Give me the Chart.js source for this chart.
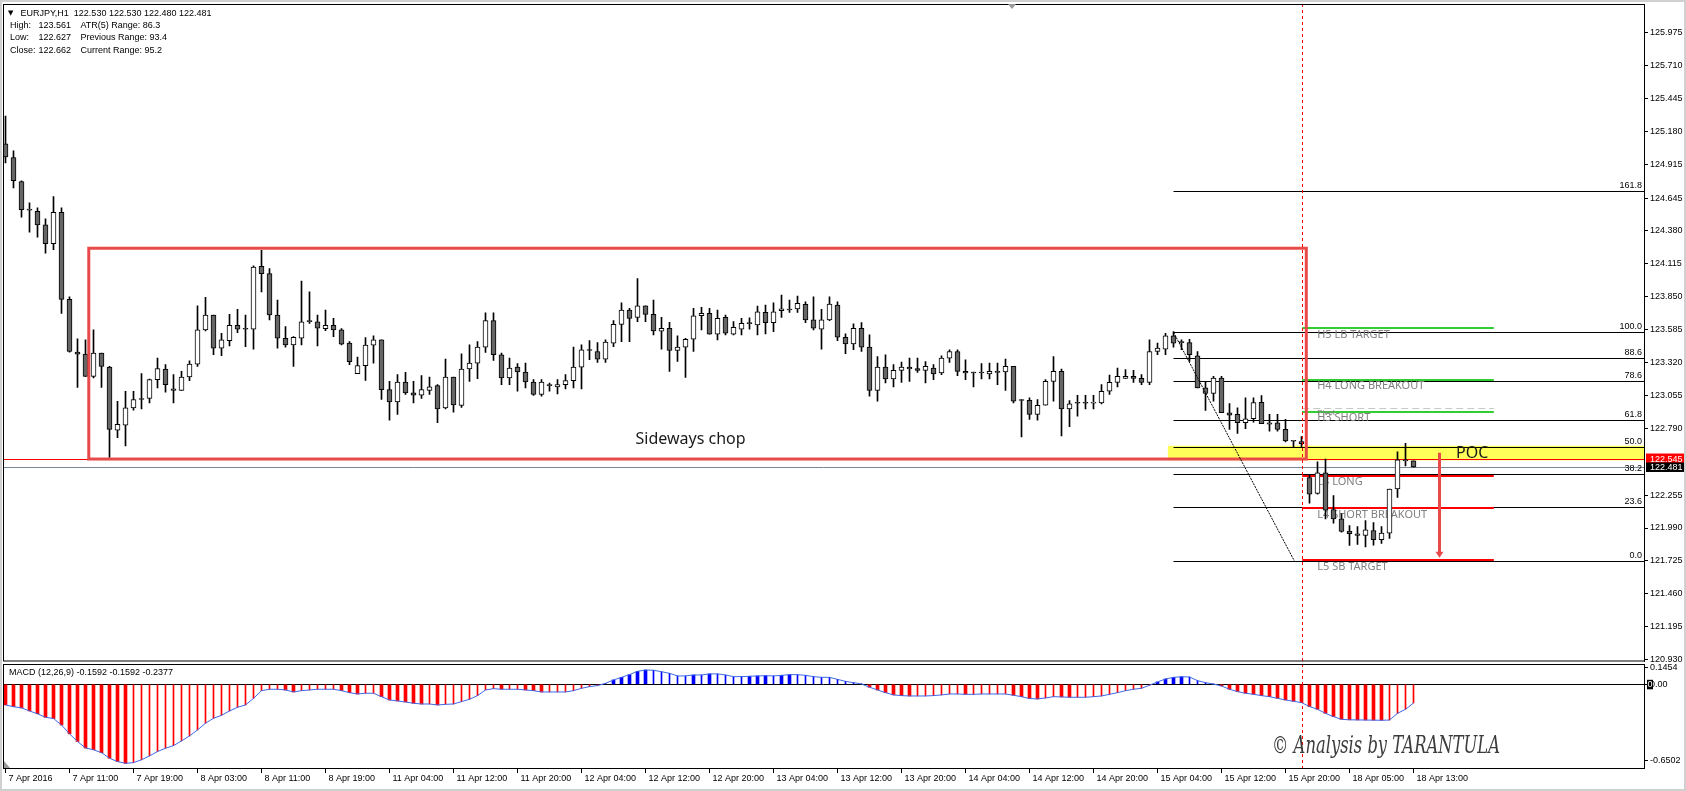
<!DOCTYPE html>
<html>
<head>
<meta charset="utf-8">
<script src="https://cdn.jsdelivr.net/npm/chart.js@4.4.1/dist/chart.umd.min.js"></script>
<style>
  html, body { margin: 0; padding: 0; background: #fff; }
  #wrap { position: relative; width: 1686px; height: 791px; overflow: hidden; }
  canvas { position: absolute; left: 0; top: 0; }
</style>
</head>
<body>
<div id="wrap">
  <canvas id="main" width="1686" height="791"></canvas>
  <canvas id="macd" width="1686" height="791"></canvas>
</div>
<script>
// EURJPY H1 candles (bar 0 = first visible bar)
const opens = [125.080,124.970,124.778,124.552,124.538,124.429,124.277,124.530,123.829,123.405,
  123.389,123.210,123.397,123.285,122.778,122.818,122.957,123.032,123.032,123.184,
  123.269,123.109,123.098,123.205,123.309,123.584,123.704,123.437,123.498,123.621,
  123.589,123.589,124.096,124.037,123.704,123.517,123.464,123.517,123.650,123.648,
  123.594,123.621,123.584,123.477,123.232,123.296,123.461,123.504,123.104,123.005,
  123.165,123.077,123.058,123.098,123.136,122.957,123.205,122.976,123.269,123.317,
  123.445,123.658,123.384,123.197,123.285,123.245,123.165,123.064,123.136,123.125,
  123.144,123.176,123.285,123.424,123.410,123.349,123.477,123.629,123.744,123.685,
  123.778,123.709,123.573,123.597,123.418,123.445,123.509,123.698,123.717,123.549,
  123.685,123.549,123.589,123.634,123.624,123.725,123.642,123.738,123.744,123.752,
  123.789,123.664,123.589,123.664,123.784,123.525,123.472,123.597,123.445,123.098,
  123.285,123.189,123.258,123.285,123.272,123.258,123.277,123.237,123.357,123.410,
  123.250,123.245,123.237,123.229,123.250,123.245,123.290,123.016,123.018,122.904,
  122.978,123.170,123.250,122.949,122.994,122.994,122.994,122.997,123.090,123.162,
  123.194,123.210,123.194,123.162,123.410,123.429,123.536,123.482,123.482,123.376,
  123.117,123.072,123.197,122.917,122.904,122.837,122.869,123.002,122.837,122.837,
  122.784,122.690,122.685,122.396,122.269,122.434,122.138,122.064,121.965,121.944,
  121.930,121.970,121.896,121.949,122.304,122.538,122.530];
const highs = [125.304,125.024,124.784,124.606,124.566,124.477,124.656,124.566,123.850,123.512,
  123.504,123.584,123.397,123.290,123.010,123.090,123.090,123.232,123.189,123.357,
  123.304,123.224,123.250,123.336,123.778,123.845,123.704,123.557,123.709,123.749,
  123.704,124.100,124.224,124.077,123.824,123.610,123.530,123.976,123.890,123.704,
  123.744,123.677,123.594,123.490,123.365,123.522,123.536,123.504,123.170,123.224,
  123.242,123.170,123.216,123.205,123.144,123.349,123.205,123.392,123.464,123.490,
  123.722,123.722,123.397,123.357,123.312,123.317,123.184,123.184,123.157,123.184,
  123.224,123.445,123.464,123.498,123.482,123.504,123.658,123.802,123.757,123.997,
  123.778,123.824,123.685,123.645,123.536,123.517,123.757,123.765,123.757,123.744,
  123.704,123.650,123.677,123.682,123.776,123.784,123.802,123.864,123.824,123.856,
  123.810,123.850,123.749,123.850,123.810,123.552,123.632,123.642,123.544,123.370,
  123.384,123.304,123.325,123.357,123.357,123.330,123.304,123.376,123.424,123.424,
  123.344,123.245,123.312,123.317,123.317,123.349,123.290,123.024,123.037,123.024,
  123.184,123.370,123.269,123.016,123.058,123.058,123.058,123.144,123.221,123.277,
  123.264,123.258,123.224,123.504,123.477,123.557,123.570,123.504,123.509,123.410,
  123.162,123.210,123.210,122.992,122.957,123.037,123.037,123.056,122.904,122.904,
  122.864,122.690,122.725,122.414,122.522,122.544,122.250,122.104,122.010,122.002,
  122.050,122.034,122.002,122.304,122.602,122.672,122.530];
const lows = [124.928,124.726,124.490,124.370,124.330,124.202,124.229,123.717,123.405,123.122,
  123.210,123.197,123.122,122.557,122.717,122.650,122.938,122.949,122.997,123.117,
  123.082,122.997,123.098,123.176,123.290,123.576,123.384,123.376,123.456,123.562,
  123.450,123.429,123.890,123.664,123.437,123.445,123.290,123.464,123.637,123.456,
  123.578,123.530,123.464,123.304,123.232,123.178,123.317,123.024,122.858,122.904,
  123.064,122.997,123.032,123.064,122.837,122.949,122.922,122.960,123.170,123.192,
  123.402,123.338,123.144,123.144,123.090,123.117,123.056,123.050,123.090,123.069,
  123.109,123.117,123.109,123.344,123.322,123.322,123.450,123.490,123.490,123.650,
  123.650,123.544,123.429,123.250,123.330,123.202,123.410,123.584,123.549,123.504,
  123.544,123.544,123.544,123.589,123.544,123.552,123.570,123.685,123.725,123.725,
  123.642,123.584,123.429,123.658,123.498,123.392,123.424,123.410,123.050,123.010,
  123.157,123.125,123.162,123.170,123.242,123.157,123.184,123.224,123.322,123.216,
  123.184,123.125,123.189,123.189,123.144,123.098,122.997,122.722,122.864,122.858,
  122.978,123.010,122.730,122.805,122.890,122.949,122.949,122.989,123.064,123.125,
  123.194,123.162,123.144,123.144,123.384,123.384,123.445,123.424,123.330,123.117,
  122.936,123.010,122.917,122.784,122.752,122.789,122.842,122.829,122.770,122.770,
  122.682,122.645,122.640,122.189,122.262,122.064,122.029,121.957,121.850,121.858,
  121.838,121.852,121.866,121.906,122.237,122.490,122.480];
const closes = [124.976,124.784,124.552,124.548,124.429,124.277,124.530,123.829,123.410,123.389,
  123.210,123.397,123.290,122.784,122.824,122.957,123.024,123.024,123.184,123.272,
  123.144,123.098,123.205,123.309,123.584,123.704,123.437,123.504,123.621,123.589,
  123.589,124.090,124.037,123.704,123.517,123.464,123.525,123.648,123.650,123.597,
  123.621,123.584,123.469,123.328,123.296,123.461,123.504,123.104,123.005,123.165,
  123.077,123.058,123.104,123.125,122.949,123.205,122.981,123.269,123.317,123.445,
  123.658,123.384,123.197,123.277,123.245,123.165,123.064,123.165,123.136,123.144,
  123.176,123.285,123.424,123.418,123.349,123.485,123.629,123.744,123.677,123.778,
  123.709,123.576,123.597,123.418,123.445,123.509,123.698,123.717,123.549,123.677,
  123.557,123.605,123.637,123.634,123.730,123.642,123.730,123.754,123.744,123.797,
  123.664,123.597,123.664,123.792,123.525,123.472,123.597,123.445,123.098,123.285,
  123.189,123.258,123.285,123.269,123.258,123.290,123.229,123.357,123.410,123.250,
  123.237,123.237,123.237,123.250,123.242,123.290,123.010,123.016,122.904,122.978,
  123.170,123.250,122.949,122.989,122.994,122.994,122.997,123.090,123.162,123.210,
  123.210,123.194,123.162,123.410,123.437,123.536,123.477,123.482,123.384,123.117,
  123.072,123.197,122.917,122.898,122.837,122.869,123.000,122.829,122.826,122.784,
  122.690,122.688,122.669,122.262,122.434,122.133,122.064,121.962,121.944,121.930,
  121.976,121.896,121.949,122.304,122.538,122.530,122.481];

// MACD histogram (12,26,9), one value per bar
const macdValues = [-0.175,-0.190,-0.200,-0.226,-0.250,-0.280,-0.290,-0.345,-0.420,-0.485,
  -0.540,-0.555,-0.580,-0.627,-0.655,-0.670,-0.664,-0.640,-0.607,-0.570,
  -0.542,-0.520,-0.480,-0.438,-0.387,-0.330,-0.288,-0.263,-0.226,-0.195,
  -0.175,-0.119,-0.054,-0.042,-0.042,-0.048,-0.065,-0.054,-0.048,-0.042,
  -0.042,-0.042,-0.054,-0.071,-0.082,-0.076,-0.076,-0.105,-0.133,-0.141,
  -0.150,-0.161,-0.167,-0.167,-0.175,-0.170,-0.167,-0.147,-0.127,-0.096,
  -0.048,-0.037,-0.042,-0.042,-0.042,-0.048,-0.054,-0.065,-0.065,-0.065,
  -0.065,-0.054,-0.034,-0.020,-0.011,0.008,0.037,0.059,0.082,0.110,
  0.121,0.119,0.107,0.093,0.071,0.071,0.079,0.079,0.088,0.088,
  0.079,0.065,0.065,0.068,0.071,0.073,0.071,0.076,0.082,0.082,
  0.076,0.065,0.059,0.059,0.042,0.025,0.014,0.003,-0.025,-0.048,
  -0.071,-0.090,-0.096,-0.099,-0.099,-0.099,-0.096,-0.090,-0.082,-0.082,
  -0.085,-0.085,-0.082,-0.082,-0.082,-0.082,-0.093,-0.105,-0.121,-0.124,
  -0.116,-0.105,-0.107,-0.110,-0.110,-0.110,-0.105,-0.099,-0.085,-0.071,
  -0.054,-0.042,-0.034,-0.008,0.020,0.045,0.059,0.064,0.062,0.031,
  0.014,0.002,-0.014,-0.042,-0.062,-0.076,-0.085,-0.096,-0.105,-0.119,
  -0.133,-0.144,-0.155,-0.189,-0.212,-0.246,-0.274,-0.297,-0.301,-0.302,
  -0.303,-0.304,-0.305,-0.303,-0.246,-0.212,-0.159];

// time axis labels, one every 8 bars
const timeLabels = ['7 Apr 2016','7 Apr 11:00','7 Apr 19:00','8 Apr 03:00','8 Apr 11:00','8 Apr 19:00',
  '11 Apr 04:00','11 Apr 12:00','11 Apr 20:00','12 Apr 04:00','12 Apr 12:00','12 Apr 20:00',
  '13 Apr 04:00','13 Apr 12:00','13 Apr 20:00','14 Apr 04:00','14 Apr 12:00','14 Apr 20:00',
  '15 Apr 04:00','15 Apr 12:00','15 Apr 20:00','18 Apr 05:00','18 Apr 13:00'];
const labelStep = 8;

const priceTicks = [125.975,125.710,125.445,125.180,124.915,124.645,124.380,124.115,123.850,
  123.585,123.320,123.055,122.790,122.255,121.990,121.725,121.460,121.195,120.930];
const macdTicks = [0.1454, 0, -0.6502];

// drawn objects
const fibLevels = [161.8, 100.0, 88.6, 78.6, 61.8, 50.0, 38.2, 23.6, 0.0];
const fibHigh = 123.565, fibLow = 121.726;
const fibStartBar = 146.0, fibEndBar = 161.1;
const camNames = ['H5 LB TARGET', 'H4 LONG BREAKOUT', 'H3 SHORT', 'L3 LONG', 'L4 SHORT BREAKOUT', 'L5 SB TARGET'];
const camPrices = [123.598, 123.182, 122.927, 122.412, 122.150, 121.732];
const pivotPrice = 122.954;
const camStartBar = 162.09, camEndBar = 186.04;
const boxBars = [10.41, 162.6], boxPrices = [124.241, 122.545];
const pocBar = 145.3, pocPrices = [122.652, 122.534];
const sessionBar = 162.09;
const arrowBar = 179.25, arrowPrices = [122.595, 121.75];
const redLinePrice = 122.545, bidPrice = 122.481;

const headerLines = [
  ['EURJPY,H1  122.530 122.530 122.480 122.481'],
  ['High:', '123.561', 'ATR(5) Range: 86.3'],
  ['Low:', '122.627', 'Previous Range: 93.4'],
  ['Close:', '122.662', 'Current Range: 95.2']
];

const FONT = "'Liberation Sans', Arial, sans-serif";
const xMin = -0.3125, xMax = 204.8125;

function hline(ctx, x1, x2, yy, color, w, dash) {
  ctx.save();
  ctx.strokeStyle = color; ctx.lineWidth = w; ctx.setLineDash(dash || []);
  const yp = w % 2 ? Math.round(yy) + 0.5 : Math.round(yy);
  ctx.beginPath(); ctx.moveTo(x1, yp); ctx.lineTo(x2, yp); ctx.stroke();
  ctx.restore();
}
function vline(ctx, xx, y1, y2, color, w, dash) {
  ctx.save();
  ctx.strokeStyle = color; ctx.lineWidth = w; ctx.setLineDash(dash || []);
  const xp = Math.round(xx) + 0.5;
  ctx.beginPath(); ctx.moveTo(xp, y1); ctx.lineTo(xp, y2); ctx.stroke();
  ctx.restore();
}

const idx = opens.map((_, i) => i);
const bodyData = idx.map(i => ({ x: i, y: [opens[i], closes[i]] }));
const wickData = idx.map(i => ({ x: i, y: [lows[i], highs[i]] }));

const mainOverlay = {
  id: 'mainOverlay',
  beforeDatasetsDraw(chart) {
    const { ctx, chartArea: a, scales: { x, y } } = chart;
    ctx.save();
    ctx.beginPath(); ctx.rect(a.left, a.top, a.right - a.left, a.bottom - a.top); ctx.clip();

    // POC zone
    const px = x.getPixelForValue(pocBar);
    const pt = y.getPixelForValue(pocPrices[0]), pb = y.getPixelForValue(pocPrices[1]);
    ctx.fillStyle = '#ffff5a';
    ctx.fillRect(px, pt, a.right - px, pb - pt);

    // price lines
    hline(ctx, a.left, a.right, y.getPixelForValue(bidPrice), '#778899', 1);
    hline(ctx, a.left, a.right, y.getPixelForValue(redLinePrice), '#ff0000', 1);

    // fibonacci levels
    const fx = x.getPixelForValue(fibStartBar);
    ctx.font = '9px ' + FONT;
    ctx.fillStyle = '#000';
    ctx.textAlign = 'right';
    ctx.textBaseline = 'bottom';
    fibLevels.forEach(l => {
      const yy = y.getPixelForValue(fibLow + (fibHigh - fibLow) * l / 100);
      hline(ctx, fx, a.right, yy, '#000', 1);
      ctx.fillText(l.toFixed(1), a.right - 2, Math.round(yy) - 1);
    });

    // camarilla levels
    const cx1 = x.getPixelForValue(camStartBar), cx2 = x.getPixelForValue(camEndBar);
    hline(ctx, cx1, cx2, y.getPixelForValue(pivotPrice), '#c8c8c8', 1, [7, 4]);
    camNames.forEach((n, k) => {
      const yy = y.getPixelForValue(camPrices[k]);
      hline(ctx, cx1, cx2, yy, k < 3 ? '#32cd32' : '#ff0000', 2);
    });
    ctx.fillStyle = '#808080';
    ctx.textAlign = 'left';
    ctx.textBaseline = 'middle';
    ctx.font = '8px ' + FONT;
    ctx.fillText('Pivot', cx1 + 15, y.getPixelForValue(pivotPrice) + 5);
    ctx.font = "11px 'Noto Sans', sans-serif";
    camNames.forEach((n, k) => {
      ctx.fillText(n, cx1 + 15, y.getPixelForValue(camPrices[k]) + 6.5);
    });
    ctx.restore();
  },
  afterDatasetsDraw(chart) {
    const { ctx, chartArea: a, scales: { x, y } } = chart;
    ctx.save();
    ctx.beginPath(); ctx.rect(a.left, a.top, a.right - a.left, a.bottom - a.top); ctx.clip();

    // sideways box
    const bx1 = x.getPixelForValue(boxBars[0]), bx2 = x.getPixelForValue(boxBars[1]);
    const by1 = y.getPixelForValue(boxPrices[0]), by2 = y.getPixelForValue(boxPrices[1]);
    ctx.strokeStyle = '#e84a4a';
    ctx.lineWidth = 3;
    ctx.strokeRect(bx1, by1, bx2 - bx1, by2 - by1);

    // fib trend line
    ctx.strokeStyle = '#000';
    ctx.lineWidth = 1;
    ctx.setLineDash([2, 1]);
    ctx.beginPath();
    ctx.moveTo(x.getPixelForValue(fibStartBar), y.getPixelForValue(fibHigh));
    ctx.lineTo(x.getPixelForValue(fibEndBar), y.getPixelForValue(fibLow));
    ctx.stroke();
    ctx.setLineDash([]);

    // arrow
    const ax = x.getPixelForValue(arrowBar);
    const ay1 = y.getPixelForValue(arrowPrices[0]), ay2 = y.getPixelForValue(arrowPrices[1]);
    ctx.strokeStyle = '#e84a4a';
    ctx.fillStyle = '#e84a4a';
    ctx.lineWidth = 3;
    ctx.beginPath(); ctx.moveTo(ax, ay1); ctx.lineTo(ax, ay2 - 4); ctx.stroke();
    ctx.beginPath(); ctx.moveTo(ax - 4, ay2 - 6); ctx.lineTo(ax + 4, ay2 - 6); ctx.lineTo(ax, ay2); ctx.closePath(); ctx.fill();

    // texts
    ctx.fillStyle = '#1a1a1a';
    ctx.textBaseline = 'middle';
    ctx.textAlign = 'center';
    ctx.font = "16px 'Noto Sans', sans-serif";
    ctx.fillText('Sideways chop', (bx1 + bx2) / 2 - 7, by2 - 20);
    ctx.textAlign = 'left';
    ctx.font = "16px 'Noto Sans', sans-serif";
    ctx.fillText('POC', 1456, (y.getPixelForValue(pocPrices[0]) + y.getPixelForValue(pocPrices[1])) / 2);
    ctx.restore();

    // session separator (dashed)
    vline(ctx, x.getPixelForValue(sessionBar), a.top, a.bottom, '#ff0000', 1, [3, 3]);
  },
  afterDraw(chart) {
    const { ctx, chartArea: a, scales: { y } } = chart;
    ctx.save();
    // frame
    ctx.strokeStyle = '#000';
    ctx.lineWidth = 1;
    ctx.strokeRect(a.left + 0.5, a.top + 0.5, a.right - a.left, a.bottom - a.top - 1);
    // price tags
    ctx.font = '9px ' + FONT;
    ctx.textAlign = 'left';
    ctx.textBaseline = 'middle';
    const r = y.getPixelForValue(redLinePrice), g = y.getPixelForValue(bidPrice);
    ctx.fillStyle = '#ff0000';
    ctx.fillRect(a.right + 2, r - 5.5, 42, 10);
    ctx.fillStyle = '#fff';
    ctx.fillText(redLinePrice.toFixed(3), a.right + 6, r);
    ctx.fillStyle = '#000';
    ctx.fillRect(a.right + 2, g - 4.5, 42, 9.5);
    ctx.fillStyle = '#fff';
    ctx.fillText(bidPrice.toFixed(3), a.right + 6, g + 0.5);
    // header
    ctx.fillStyle = '#000';
    ctx.font = "7px 'DejaVu Sans', sans-serif";
    ctx.fillText('\u25BC', 8, 13.5);
    ctx.font = '9px ' + FONT;
    ctx.fillText(headerLines[0][0], 20.5, 13.5);
    headerLines.slice(1).forEach((ln, k) => {
      const yy = 25.7 + k * 12.2;
      ctx.fillText(ln[0], 10, yy);
      ctx.fillText(ln[1], 38.5, yy);
      ctx.fillText(ln[2], 80.5, yy);
    });
    // chart shift marker
    ctx.fillStyle = '#9a9a9a';
    ctx.beginPath(); ctx.moveTo(1008, 4); ctx.lineTo(1016, 4); ctx.lineTo(1012, 9); ctx.closePath(); ctx.fill();
    // window border
    ctx.strokeStyle = '#d0d0d0';
    ctx.lineWidth = 2;
    ctx.strokeRect(1, 1, 1684, 789);
    ctx.restore();
  }
};

new Chart(document.getElementById('main'), {
  type: 'bar',
  data: {
    datasets: [
      {
        data: bodyData,
        barThickness: 5,
        grouped: false,
        order: 0,
        minBarLength: 1,
        borderSkipped: false,
        borderWidth: 1,
        borderColor: '#000',
        backgroundColor: c => (closes[c.dataIndex] > opens[c.dataIndex] ? '#ffffff' : '#666666')
      },
      {
        data: wickData,
        barThickness: 1,
        grouped: false,
        order: 1,
        borderWidth: 0,
        backgroundColor: '#000'
      }
    ]
  },
  options: {
    responsive: false,
    animation: false,
    devicePixelRatio: 1,
    layout: { padding: { left: 3, top: 4, right: 0, bottom: 129.5 } },
    plugins: { legend: { display: false }, tooltip: { enabled: false } },
    scales: {
      x: { type: 'linear', min: xMin, max: xMax, display: false, offset: false },
      y: {
        position: 'right',
        min: 120.916,
        max: 126.206,
        afterFit: s => { s.width = 42; s.paddingTop = 0; s.paddingBottom = 0; },
        afterBuildTicks: s => { s.ticks = priceTicks.map(v => ({ value: v })); },
        ticks: { callback: v => v.toFixed(3), color: '#000', font: { family: FONT, size: 9 }, padding: 2, autoSkip: false },
        grid: { drawOnChartArea: false, tickLength: 4, color: '#000' },
        border: { display: true, color: '#000' }
      }
    }
  },
  plugins: [mainOverlay]
});

// MACD panel
const macdPts = idx.map(i => ({ x: i, y: macdValues[i] }));
const away = idx.map(i => i === 0 || Math.abs(macdValues[i]) > Math.abs(macdValues[i - 1]));
const thickPts = idx.map(i => ({ x: i, y: away[i] ? macdValues[i] : null }));
const thinPts = idx.map(i => ({ x: i, y: away[i] ? null : macdValues[i] }));
const histColor = c => (c.raw && c.raw.y > 0 ? '#0000ff' : '#ff0000');

const macdOverlay = {
  id: 'macdOverlay',
  beforeDatasetsDraw(chart) {
    const { ctx, chartArea: a, scales: { y } } = chart;
    hline(ctx, a.left, a.right, y.getPixelForValue(0), '#000', 1);
  },
  afterDatasetsDraw(chart) {
    const { ctx, chartArea: a, scales: { x, y } } = chart;
    vline(ctx, x.getPixelForValue(sessionBar), a.top, a.bottom, '#ff0000', 1, [3, 3]);
    ctx.save();
    ctx.strokeStyle = '#000';
    ctx.lineWidth = 1;
    ctx.strokeRect(a.left + 0.5, a.top + 0.5, a.right - a.left, a.bottom - a.top);
    ctx.fillStyle = '#000';
    ctx.font = '9px ' + FONT;
    ctx.textAlign = 'left';
    ctx.textBaseline = 'middle';
    ctx.fillText('MACD (12,26,9) -0.1592 -0.1592 -0.2377', 9, a.top + 9);
    // current value marker on zero label
    const z = y.getPixelForValue(0);
    ctx.fillRect(a.right + 3, z - 4.5, 6, 9.5);
    ctx.fillStyle = '#fff';
    ctx.fillText('0', a.right + 3.5, z + 0.5);
    // small corner marker
    ctx.fillStyle = '#9a9a9a';
    ctx.beginPath(); ctx.moveTo(a.left + 1, a.bottom - 7); ctx.lineTo(a.left + 1, a.bottom); ctx.lineTo(a.left + 7, a.bottom); ctx.closePath(); ctx.fill();
    // signature
    ctx.fillStyle = '#3c3c3c';
    ctx.font = "italic 25px 'DejaVu Serif', serif";
    ctx.fillText('\u00A9 Analysis by TARANTULA', 1272, 746, 228);
    ctx.restore();
  }
};

new Chart(document.getElementById('macd'), {
  data: {
    datasets: [
      { type: 'line', data: macdPts, borderColor: '#3f68e6', borderWidth: 1, pointRadius: 0, tension: 0, order: 0 },
      { type: 'bar', data: thickPts, barThickness: 3, grouped: false, backgroundColor: histColor, order: 1 },
      { type: 'bar', data: thinPts, barThickness: 1, grouped: false, backgroundColor: histColor, order: 2 }
    ]
  },
  options: {
    responsive: false,
    animation: false,
    devicePixelRatio: 1,
    layout: { padding: { left: 3, top: 664, right: 0, bottom: 0 } },
    plugins: { legend: { display: false }, tooltip: { enabled: false } },
    scales: {
      x: {
        type: 'linear',
        min: xMin,
        max: xMax,
        offset: false,
        position: 'bottom',
        afterFit: s => { s.height = 23; s.paddingLeft = 0; s.paddingRight = 0; },
        afterBuildTicks: s => { s.ticks = timeLabels.map((_, k) => ({ value: k * labelStep })); },
        ticks: {
          callback: v => timeLabels[Math.round(v / labelStep)],
          align: 'start',
          labelOffset: 3,
          maxRotation: 0,
          autoSkip: false,
          padding: 0,
          color: '#000',
          font: { family: FONT, size: 9 }
        },
        grid: { drawOnChartArea: false, tickLength: 5, color: '#000', offset: false },
        border: { display: true, color: '#000' }
      },
      y: {
        position: 'right',
        min: -0.7096,
        max: 0.1721,
        afterFit: s => { s.width = 42; s.paddingTop = 0; s.paddingBottom = 0; },
        afterBuildTicks: s => { s.ticks = macdTicks.map(v => ({ value: v })); },
        ticks: { callback: v => (v === 0 ? '0.00' : String(v)), color: '#000', font: { family: FONT, size: 9 }, padding: 2, autoSkip: false },
        grid: { drawOnChartArea: false, tickLength: 4, color: '#000' },
        border: { display: true, color: '#000' }
      }
    }
  },
  plugins: [macdOverlay]
});
</script>
</body>
</html>
